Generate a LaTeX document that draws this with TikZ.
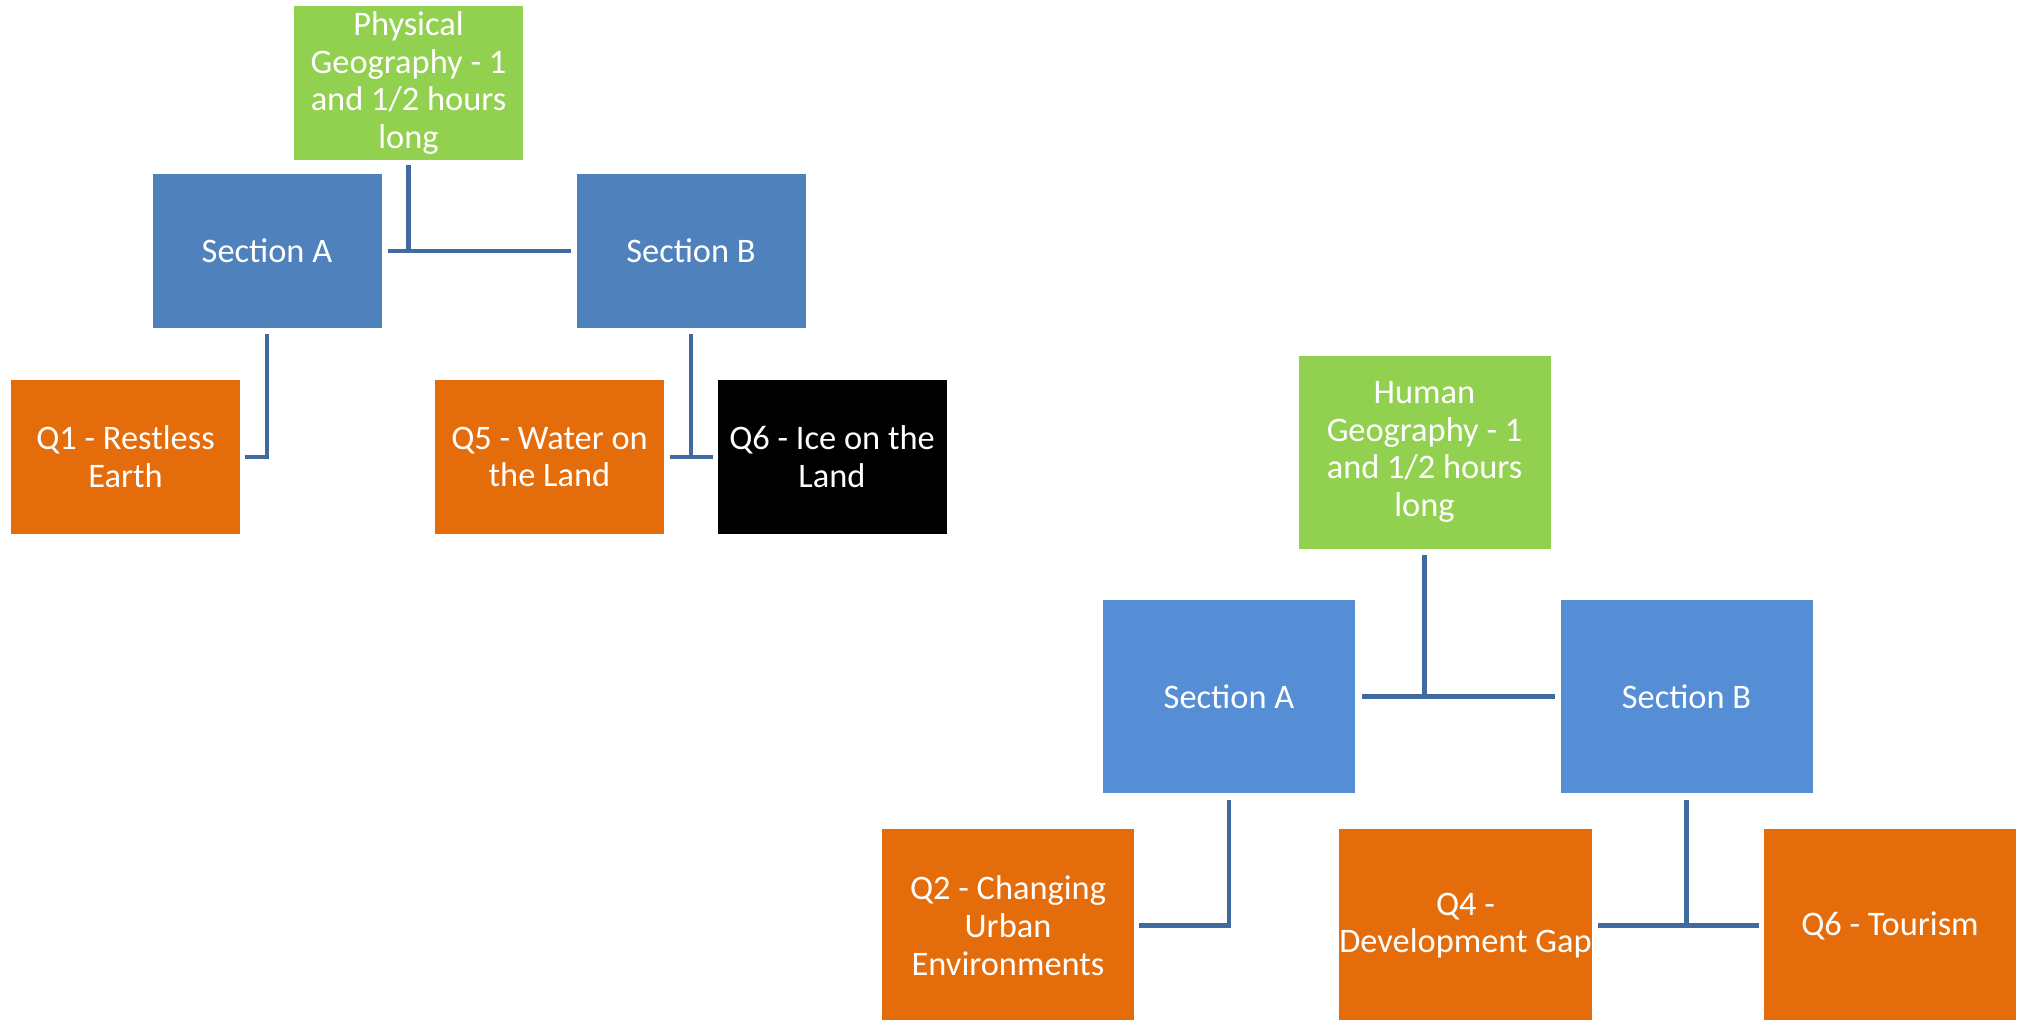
\documentclass[tikz,border=0pt]{standalone}
\usepackage{fontspec}
\setmainfont{Carlito}
\definecolor{topblue}{RGB}{79,129,189}
\definecolor{lowblue}{RGB}{85,142,213}
\definecolor{leafgreen}{RGB}{146,208,80}
\definecolor{qorange}{RGB}{228,108,10}
\definecolor{linkblue}{RGB}{65,107,160}
\tikzset{
  box/.style={rectangle, inner xsep=0pt, inner ysep=2pt, align=center, text=white,
    font=\fontsize{34.4}{37.8}\selectfont},
  smallbox/.style={box, minimum width=229pt, minimum height=154pt},
  bigbox/.style={box, minimum width=252pt, minimum height=193pt},
  link/.style={draw=linkblue, line width=4.5pt}
}
\begin{document}
\begin{tikzpicture}[x=1pt,y=-1pt]
\clip (0,0) rectangle (2022,1020);
\fill[white] (0,0) rectangle (2022,1020);
% Physical geography tree
\node[smallbox, fill=leafgreen] (phys) at (408.5,83) {Physical\\Geography - 1\\and 1/2 hours\\long};
\node[smallbox, fill=topblue] (pA) at (267,251) {Section A};
\node[smallbox, fill=topblue] (pB) at (691,251) {Section B};
\node[smallbox, fill=qorange] (q1) at (125.5,457) {Q1 - Restless\\Earth};
\node[smallbox, fill=qorange] (q5) at (549.5,457) {Q5 - Water on\\the Land};
\node[smallbox, fill=black] (q6i) at (832,457) {Q6 - Ice on the\\Land};
\draw[link] ([yshift=-5pt]phys.south) -- (phys.south |- pA.east);
\draw[link] ([xshift=6pt]pA.east) -- ([xshift=-5pt]pB.west);
\draw[link] ([yshift=-6pt]pA.south) |- ([xshift=5pt]q1.east);
\draw[link] ([yshift=-6pt]pB.south) -- (pB.south |- q5.east);
\draw[link] ([xshift=6pt]q5.east) -- ([xshift=-4pt]q6i.west);
% Human geography tree
\node[bigbox, fill=leafgreen] (hum) at (1424.5,452) {Human\\Geography - 1\\and 1/2 hours\\long};
\node[bigbox, fill=lowblue] (hA) at (1229,696.5) {Section A};
\node[bigbox, fill=lowblue] (hB) at (1686.5,696.5) {Section B};
\node[bigbox, fill=qorange] (q2) at (1008,925.5) {Q2 - Changing\\Urban\\Environments};
\node[bigbox, fill=qorange] (q4) at (1465.5,925.5) {Q4 -\\Development Gap};
\node[bigbox, fill=qorange] (q6t) at (1890,925.5) {Q6 - Tourism};
\draw[link] ([yshift=-6pt]hum.south) -- (hum.south |- hA.east);
\draw[link] ([xshift=7pt]hA.east) -- ([xshift=-5pt]hB.west);
\draw[link] ([yshift=-7pt]hA.south) |- ([xshift=5pt]q2.east);
\draw[link] ([yshift=-7pt]hB.south) -- (hB.south |- q6t.west);
\draw[link] ([xshift=6pt]q4.east) -- ([xshift=-5pt]q6t.west);
\end{tikzpicture}
\end{document}
